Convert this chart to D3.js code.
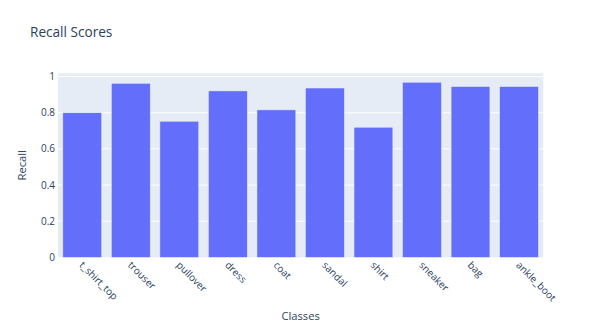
<!DOCTYPE html>
<html>
<head>
<meta charset="utf-8">
<script src="https://cdn.jsdelivr.net/npm/d3@7"></script>
<style>
  body { margin: 0; background: #fff; }
  text { font-family: "Open Sans", sans-serif; fill: #2a3f5f; }
</style>
</head>
<body>
<svg id="chart" width="602" height="329"></svg>
<script>
// data
var classes = ["t_shirt_top", "trouser", "pullover", "dress", "coat",
               "sandal", "shirt", "sneaker", "bag", "ankle_boot"];
var recall = [0.800, 0.963, 0.753, 0.921, 0.816, 0.937, 0.720, 0.969, 0.945, 0.945];
var yTicks = [0, 0.2, 0.4, 0.6, 0.8, 1];

var svg = d3.select("#chart");
// plot box (note: "top" is taken by window.top, so use other names)
var plotL = 58, plotR = 543.3, plotT = 73.3, plotB = 257.3;

var x = d3.scaleBand().domain(classes).range([plotL, plotR]).paddingInner(0.2).paddingOuter(0.1);
var y = d3.scaleLinear().domain([0, 1.0185]).range([plotB, plotT]);

// plot background
svg.append("rect")
  .attr("x", plotL).attr("y", plotT)
  .attr("width", plotR - plotL).attr("height", plotB - plotT)
  .attr("fill", "#e5ecf6");

// grid lines
svg.selectAll(".grid").data(yTicks.slice(1)).enter().append("line")
  .attr("x1", plotL).attr("x2", plotR)
  .attr("y1", function(d) { return y(d); }).attr("y2", function(d) { return y(d); })
  .attr("stroke", "#fff").attr("stroke-width", 1);

// bars
svg.selectAll(".bar").data(recall).enter().append("rect")
  .attr("x", function(d, i) { return x(classes[i]); })
  .attr("width", x.bandwidth())
  .attr("y", function(d) { return y(d); })
  .attr("height", function(d) { return y(0) - y(d); })
  .attr("fill", "#636efa")
  .attr("stroke", "#e5ecf6").attr("stroke-width", 0.5);

// y tick labels
svg.selectAll(".ytick").data(yTicks).enter().append("text")
  .attr("x", plotL - 3)
  .attr("y", function(d) { return y(d); })
  .attr("dy", "0.35em")
  .attr("text-anchor", "end")
  .style("font-size", "10px")
  .text(function(d) { return d3.format("")(d); });

// x tick labels, rotated 45deg
svg.selectAll(".xtick").data(classes).enter().append("text")
  .attr("transform", function(d) {
    return "translate(" + (x(d) + x.bandwidth() / 2 - 1) + "," + (plotB + 6) + ") rotate(45)";
  })
  .attr("text-anchor", "start")
  .attr("dy", "0.35em")
  .style("font-size", "10px")
  .text(function(d) { return d; });

// titles
svg.append("text").attr("x", 30).attr("y", 37)
  .style("font-size", "13.6px").text("Recall Scores");

svg.append("text")
  .attr("transform", "translate(26," + ((plotT + plotB) / 2) + ") rotate(-90)")
  .attr("text-anchor", "middle")
  .style("font-size", "11.2px").text("Recall");

svg.append("text").attr("x", (plotL + plotR) / 2).attr("y", 320)
  .attr("text-anchor", "middle")
  .style("font-size", "11.2px").text("Classes");
</script>
</body>
</html>
